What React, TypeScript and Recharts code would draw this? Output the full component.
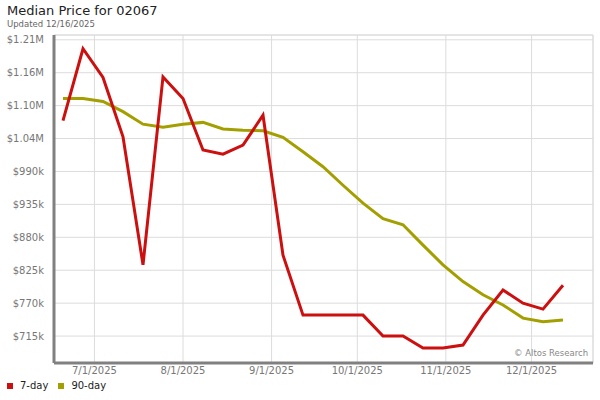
import React from "react";
import {
  LineChart,
  Line,
  XAxis,
  YAxis,
  CartesianGrid,
  ReferenceLine,
} from "recharts";

// weekly points, 6/20/2025 .. 12/12/2025
const weekDates = [
  "2025-06-20", "2025-06-27", "2025-07-04", "2025-07-11", "2025-07-18",
  "2025-07-25", "2025-08-01", "2025-08-08", "2025-08-15", "2025-08-22",
  "2025-08-29", "2025-09-05", "2025-09-12", "2025-09-19", "2025-09-26",
  "2025-10-03", "2025-10-10", "2025-10-17", "2025-10-24", "2025-10-31",
  "2025-11-07", "2025-11-14", "2025-11-21", "2025-11-28", "2025-12-05",
  "2025-12-12",
];

const sevenDay = [
  1075000, 1195000, 1147000, 1048000, 834000, 1148000, 1112000, 1026000,
  1019000, 1034000, 1084000, 850000, 750000, 750000, 750000, 750000,
  715000, 715000, 695000, 695000, 700000, 750000, 792000, 770000, 760000,
  800000,
];

const ninetyDay = [
  1112000, 1112000, 1107000, 1090000, 1069000, 1064000, 1069000, 1072000,
  1061000, 1059000, 1058000, 1047000, 1023000, 998000, 967000, 937000,
  911000, 901000, 867000, 834000, 806000, 784000, 767000, 745000, 739000,
  742000,
];

const xTickDates = [
  "2025-07-01", "2025-08-01", "2025-09-01", "2025-10-01", "2025-11-01", "2025-12-01",
];

const yTicks = [
  715000, 770000, 825000, 880000, 935000, 990000, 1045000, 1100000, 1155000, 1210000,
];
const yTickLabels = [
  "$715k", "$770k", "$825k", "$880k", "$935k", "$990k",
  "$1.04M", "$1.10M", "$1.16M", "$1.21M",
];

const DAY = 86400000;
const ts = (s: string) => Date.parse(s + "T00:00:00Z");

const data = weekDates.map((d, i) => ({
  t: ts(d),
  sevenDay: sevenDay[i],
  ninetyDay: ninetyDay[i],
}));

const xMin = ts(weekDates[0]) - 3.15 * DAY;
const xMax = ts(weekDates[weekDates.length - 1]) + 10.5 * DAY;
const yMin = 670000;
const yMax = 1218000;

const RED = "#cc0f0f";
const OLIVE = "#a39f00";
const FONT = "'DejaVu Sans', Verdana, sans-serif";

const fmtDate = (v: number) => {
  const d = new Date(v);
  return `${d.getUTCMonth() + 1}/${d.getUTCDate()}/${d.getUTCFullYear()}`;
};

const fmtPrice = (v: number) => {
  const i = yTicks.indexOf(v);
  return i >= 0 ? yTickLabels[i] : String(v);
};

export default function App() {
  return (
    <div
      style={{
        position: "fixed",
        left: 0,
        top: 0,
        width: 600,
        height: 400,
        background: "#fff",
        fontFamily: FONT,
      }}
    >
      <div style={{ position: "absolute", left: 7, top: 3, fontSize: 13, color: "#222" }}>
        Median Price for 02067
      </div>
      <div style={{ position: "absolute", left: 7, top: 19, fontSize: 8.5, color: "#666" }}>
        Updated 12/16/2025
      </div>

      <LineChart
        width={600}
        height={400}
        data={data}
        margin={{ top: 35, right: 7, bottom: 17, left: 0 }}
      >
        <CartesianGrid stroke="#dcdcdc" strokeWidth={1} />
        <ReferenceLine y={yMax} stroke="#dcdcdc" />
        <ReferenceLine x={xMax} stroke="#dcdcdc" />
        <XAxis
          dataKey="t"
          type="number"
          domain={[xMin, xMax]}
          ticks={xTickDates.map(ts)}
          tickFormatter={fmtDate}
          allowDataOverflow
          height={20}
          tickSize={0}
          tickMargin={4}
          axisLine={{ stroke: "#808080", strokeWidth: 3 }}
          tick={{ fontSize: 10, fill: "#777", fontFamily: FONT }}
        />
        <YAxis
          type="number"
          domain={[yMin, yMax]}
          ticks={yTicks}
          tickFormatter={fmtPrice}
          allowDataOverflow
          width={54}
          tickSize={0}
          tickMargin={10}
          axisLine={{ stroke: "#808080", strokeWidth: 3 }}
          tick={{ fontSize: 10, fill: "#777", fontFamily: FONT }}
        />
        <Line
          dataKey="ninetyDay"
          stroke={OLIVE}
          strokeWidth={3}
          dot={false}
          activeDot={false}
          isAnimationActive={false}
        />
        <Line
          dataKey="sevenDay"
          stroke={RED}
          strokeWidth={3}
          dot={false}
          activeDot={false}
          isAnimationActive={false}
        />
      </LineChart>

      <div
        style={{
          position: "absolute",
          left: 514,
          top: 348,
          fontSize: 8.5,
          color: "#888",
        }}
      >
        © Altos Research
      </div>

      <div
        style={{
          position: "absolute",
          left: 7,
          top: 380,
          fontSize: 10,
          color: "#222",
          display: "flex",
          gap: 10,
        }}
      >
        <span style={{ display: "flex", alignItems: "center" }}>
          <span style={{ width: 6, height: 6, background: RED, marginRight: 7 }} />
          7-day
        </span>
        <span style={{ display: "flex", alignItems: "center" }}>
          <span style={{ width: 6, height: 6, background: OLIVE, marginRight: 7 }} />
          90-day
        </span>
      </div>
    </div>
  );
}
